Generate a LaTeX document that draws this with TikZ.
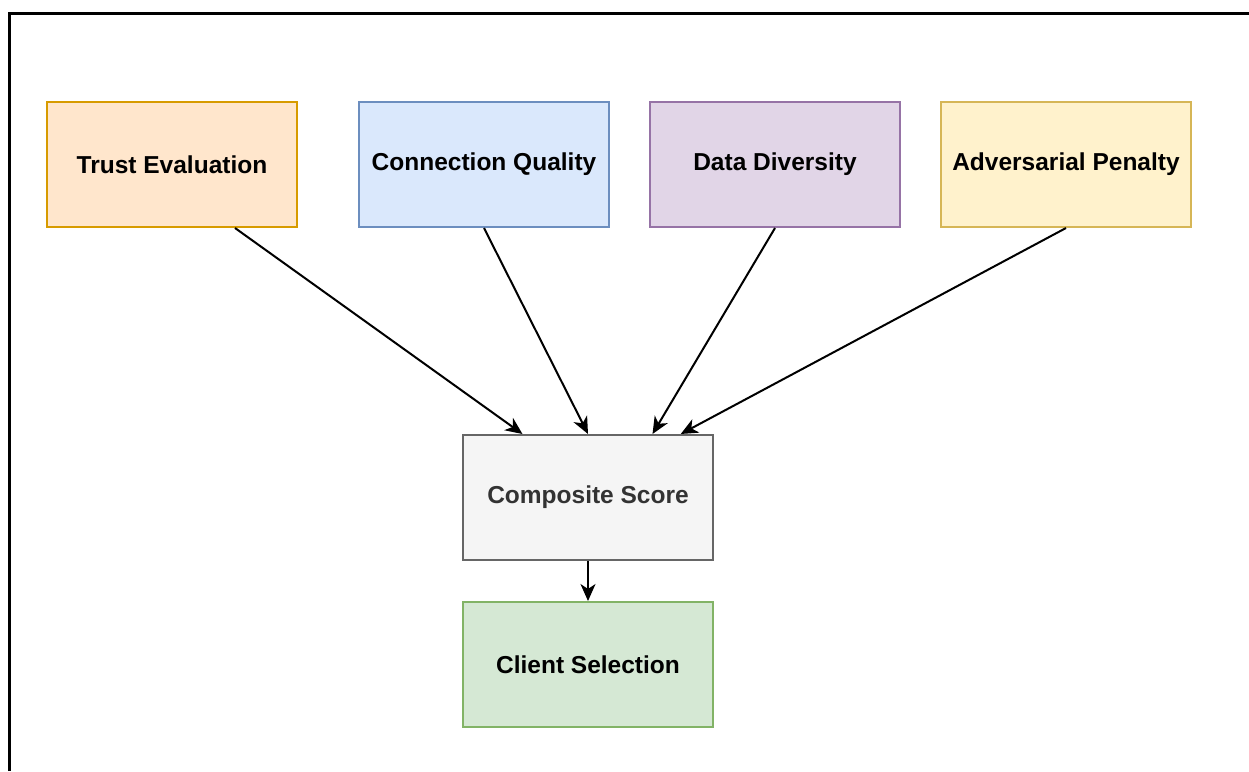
\documentclass[tikz,border=0pt]{standalone}
\usepackage{fontspec}
\setmainfont{Liberation Sans}
\usetikzlibrary{calc,arrows.meta}
\definecolor{trustfill}{HTML}{FFE6CC}\definecolor{trustline}{HTML}{D79B00}
\definecolor{connfill}{HTML}{DAE8FC}\definecolor{connline}{HTML}{6C8EBF}
\definecolor{datafill}{HTML}{E1D5E7}\definecolor{dataline}{HTML}{9673A6}
\definecolor{advfill}{HTML}{FFF2CC}\definecolor{advline}{HTML}{D6B656}
\definecolor{compfill}{HTML}{F5F5F5}\definecolor{compline}{HTML}{666666}\definecolor{comptext}{HTML}{333333}
\definecolor{selfill}{HTML}{D5E8D4}\definecolor{selline}{HTML}{82B366}
\tikzset{
  stagebox/.style={draw, line width=2pt, minimum width=250pt, minimum height=125pt,
    inner sep=0pt, font=\fontsize{24.5}{28}\selectfont\bfseries},
  flow/.style={line width=2pt, -{Stealth[length=17pt,width=15pt,inset=5pt]}},
}
\begin{document}
\begin{tikzpicture}[x=1pt,y=-1pt]
  \useasboundingbox (0,0) rectangle (1249,771);
  % outer frame, only its left and top edges fall inside the page
  \draw[line width=3pt, black] (9.5,771) -- (9.5,13.7) -- (1249,13.7);

  % input factors
  \node[stagebox, fill=trustfill, draw=trustline] (trust) at (172,164.5) {Trust Evaluation};
  \node[stagebox, fill=connfill, draw=connline] (conn) at (484,164.5) {Connection Quality};
  \node[stagebox, fill=datafill, draw=dataline] (data) at (775,164.5) {Data Diversity};
  \node[stagebox, fill=advfill, draw=advline] (adv) at (1066,164.5) {Adversarial Penalty};

  % aggregation and decision
  \node[stagebox, fill=compfill, draw=compline, text=comptext] (comp) at (588,497.5) {Composite Score};
  \node[stagebox, fill=selfill, draw=selline] (sel) at (588,664.5) {Client Selection};

  % connectors
  \draw[flow] ($(trust.south west)!0.75!(trust.south east)$) -- ($(comp.north west)!0.24!(comp.north east)$);
  \draw[flow] (conn.south) -- (comp.north);
  \draw[flow] (data.south) -- ($(comp.north west)!0.756!(comp.north east)$);
  \draw[flow] (adv.south) -- ($(comp.north west)!0.868!(comp.north east)$);
  \draw[flow] (comp.south) -- (sel.north);
\end{tikzpicture}
\end{document}
